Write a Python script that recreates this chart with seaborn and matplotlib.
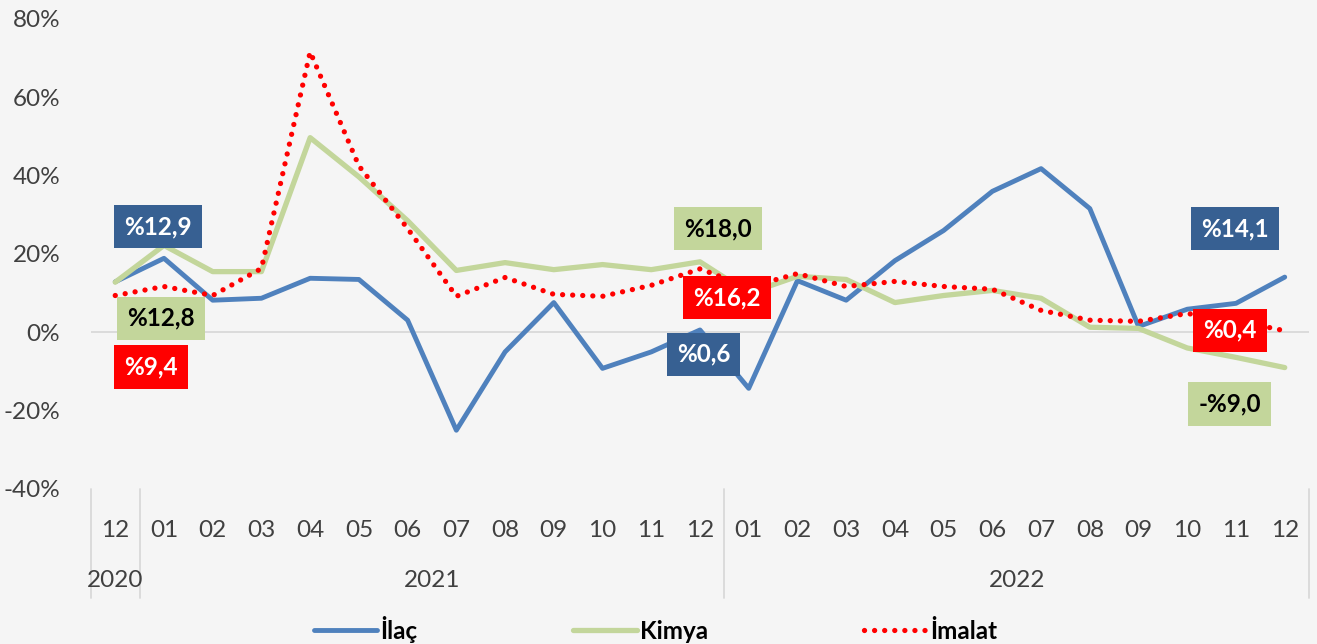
import numpy as np
import pandas as pd
import matplotlib
matplotlib.use("Agg")
import matplotlib.pyplot as plt
import matplotlib.transforms as mtransforms
from matplotlib.lines import Line2D
import seaborn as sns

# ---- data -------------------------------------------------------------------
MONTHS = ["12", "01", "02", "03", "04", "05", "06", "07", "08", "09", "10", "11", "12",
          "01", "02", "03", "04", "05", "06", "07", "08", "09", "10", "11", "12"]
YEARS = ["2020"] + ["2021"] * 12 + ["2022"] * 12

ILAC = [12.9, 18.9, 8.2, 8.7, 13.8, 13.5, 3.1, -25.0, -5.0, 7.6, -9.2, -5.0, 0.6,
        -14.3, 13.2, 8.2, 18.3, 26.0, 36.0, 41.8, 31.6, 1.5, 5.9, 7.4, 14.1]
KIMYA = [12.8, 22.2, 15.5, 15.5, 49.7, 39.7, 28.5, 15.8, 17.8, 16.0, 17.3, 16.0, 18.0,
         10.0, 14.3, 13.5, 7.6, 9.4, 10.7, 8.7, 1.3, 1.0, -4.0, -6.4, -9.0]
IMALAT = [9.4, 11.7, 9.4, 16.3, 71.6, 42.5, 26.5, 9.2, 14.0, 9.7, 9.2, 12.0, 16.2,
          11.5, 15.0, 11.7, 13.0, 11.7, 11.0, 5.6, 3.1, 2.8, 4.8, 3.0, 0.4]

SERIES = ["İlaç", "Kimya", "İmalat"]
COLORS = {"İlaç": "#4F81BD", "Kimya": "#C3D69B", "İmalat": "#FF0000"}
BOX_COLORS = {"İlaç": "#376092", "Kimya": "#C3D69B", "İmalat": "#FF0000"}
TEXT_COLORS = {"İlaç": "white", "Kimya": "black", "İmalat": "white"}

# labelled points: series, point index, label centre (x, y) in data units
LABELS = [("İlaç", 0, 0.88, 27.0), ("Kimya", 0, 0.94, 3.6), ("İmalat", 0, 0.74, -8.9),
          ("Kimya", 12, 12.36, 26.5), ("İmalat", 12, 12.55, 8.9), ("İlaç", 12, 12.07, -5.6),
          ("İlaç", 24, 22.98, 26.5), ("İmalat", 24, 22.87, 0.5), ("Kimya", 24, 22.87, -18.3)]

BG = "#F5F5F5"
TXT = "#404040"

sns.set_theme(style="white")
plt.rcParams["font.family"] = ["Lato", "DejaVu Sans"]

df = pd.DataFrame({"i": np.arange(len(MONTHS)), "İlaç": ILAC, "Kimya": KIMYA, "İmalat": IMALAT})
values = {"İlaç": ILAC, "Kimya": KIMYA, "İmalat": IMALAT}

fig = plt.figure(figsize=(13.17, 6.44), dpi=100, facecolor=BG)
ax = fig.add_axes([0.069, 0.2407, 0.925, 0.7298], facecolor=BG)

sns.lineplot(data=df, x="i", y="İlaç", ax=ax, color=COLORS["İlaç"], lw=3.5,
             label="İlaç", solid_capstyle="round")
sns.lineplot(data=df, x="i", y="Kimya", ax=ax, color=COLORS["Kimya"], lw=3.8,
             label="Kimya", solid_capstyle="round")
sns.lineplot(data=df, x="i", y="İmalat", ax=ax, color=COLORS["İmalat"], lw=3.8,
             label="İmalat", linestyle=(0, (0.01, 1.9)), dash_capstyle="round")

ax.axhline(0, color="#D9D9D9", lw=1.3, zorder=0)

ax.set_xlim(-0.5, len(MONTHS) - 0.5)
ax.set_ylim(-40, 80)
ax.set_yticks(np.arange(-40, 81, 20))
ax.set_yticklabels([f"{v}%" for v in range(-40, 81, 20)], fontsize=17.5, color=TXT)
ax.set_xticks(np.arange(len(MONTHS)))
ax.set_xticklabels(MONTHS, fontsize=17.5, color=TXT)
ax.tick_params(axis="x", length=0, pad=22)
ax.tick_params(axis="y", length=0, pad=22)
ax.set_xlabel("")
ax.set_ylabel("")
for s in ax.spines.values():
    s.set_visible(False)

# two-level category axis: year labels and separators
trans = mtransforms.blended_transform_factory(ax.transData, ax.transAxes)
years_u = list(dict.fromkeys(YEARS))
start = 0
bounds = [-0.5]
for y in years_u:
    n = YEARS.count(y)
    ax.text(start + (n - 1) / 2, -0.194, y, transform=trans, ha="center", va="center",
            fontsize=17.5, color=TXT)
    start += n
    bounds.append(start - 0.5)
for b in bounds:
    ax.add_line(Line2D([b, b], [0, -0.232], transform=trans, color="#D9D9D9",
                       lw=1.3, clip_on=False))

# data labels
for name, idx, lx, ly in LABELS:
    v = values[name][idx]
    txt = ("-" if v < 0 else "") + "%" + f"{abs(v):.1f}".replace(".", ",")
    ax.text(lx, ly, txt, ha="center", va="center", fontsize=17.5, fontweight="bold",
            color=TEXT_COLORS[name], zorder=5,
            bbox=dict(boxstyle="square,pad=0.42", fc=BOX_COLORS[name], ec="none"))

leg = ax.legend(loc="center", bbox_to_anchor=(0.498, 0.023), bbox_transform=fig.transFigure,
                ncol=3, frameon=False, fontsize=17.5, handlelength=2.6, handletextpad=0.15,
                columnspacing=6.4)
for t in leg.get_texts():
    t.set_fontweight("bold")
    t.set_color("black")

fig.savefig("out.png", dpi=100, facecolor=BG)
